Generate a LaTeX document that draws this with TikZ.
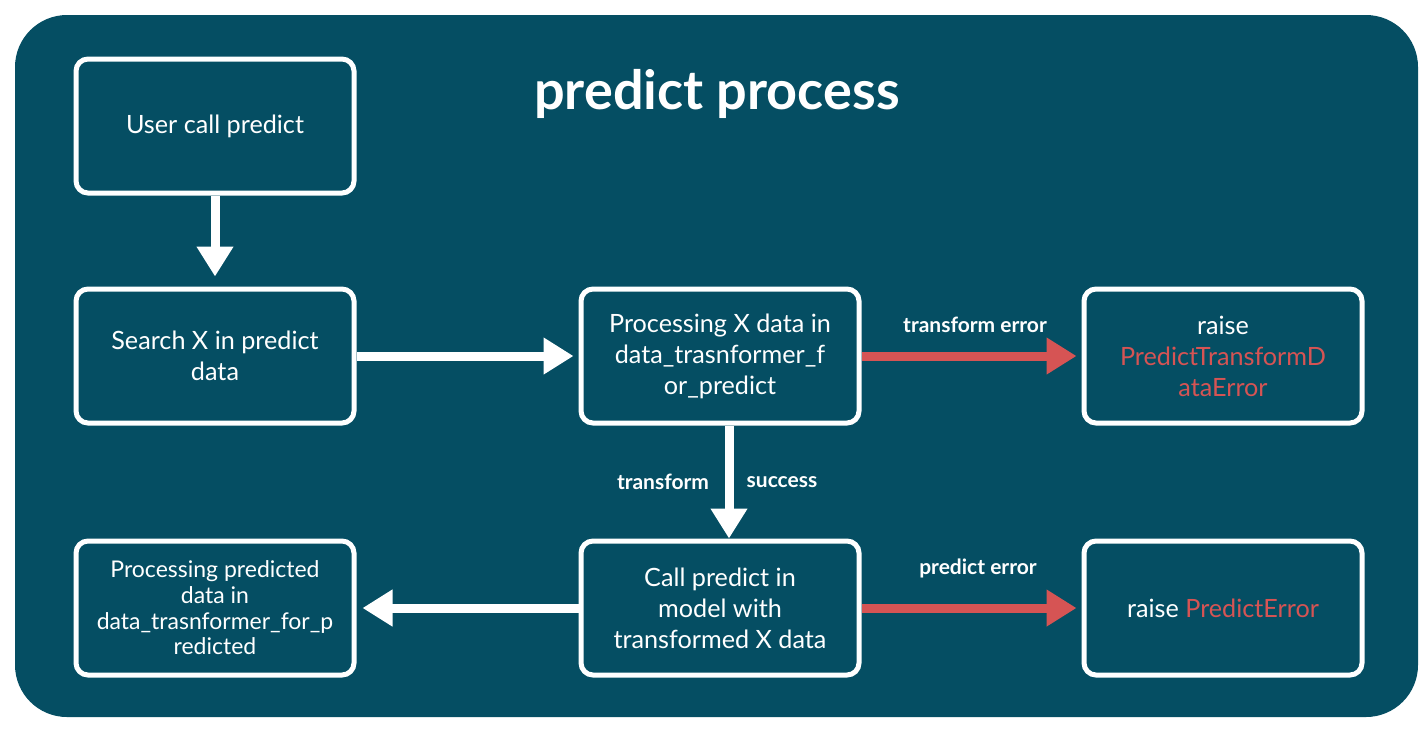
\documentclass[tikz,border=0pt]{standalone}
\usepackage{fontspec}
\setmainfont{Lato}
\usetikzlibrary{arrows.meta}
\definecolor{fondbleu}{RGB}{5,78,99}
\definecolor{rougeerr}{RGB}{214,84,84}

\begin{document}
\begin{tikzpicture}[x=0.5pt, y=-0.5pt,
    boite/.style={draw=white, line width=2.5pt, rounded corners=6pt,
      minimum width=139pt, minimum height=67pt, inner sep=2pt,
      align=center, text=white, font=\fontsize{12.6}{15.5}\selectfont},
    fleche/.style={white, line width=4.5pt, -{Triangle[length=15pt,width=17.5pt]}},
    flecherouge/.style={fleche, rougeerr},
    etiquette/.style={text=white, font=\bfseries\fontsize{10.5}{12}\selectfont}]
    \useasboundingbox (0,0) rectangle (1428,730);
    \fill[fondbleu, rounded corners=26pt] (15,15) rectangle (1418,717);
    % Titre
    \node[text=white, font=\bfseries\fontsize{27}{30}\selectfont] (titre) at (717,94) {predict process};
    % Boites
    \node[boite] (user) at (215,126) {User call predict};
    \node[boite] (search) at (215,356) {Search X in predict\\data};
    \node[boite] (procx) at (720,356) {Processing X data in\\data\_trasnformer\_f\\or\_predict};
    \node[boite] (rtde) at (1223,356) {raise\\\textcolor{rougeerr}{PredictTransformD}\\\textcolor{rougeerr}{ataError}};
    \node[boite, font=\fontsize{11.5}{12.8}\selectfont] (pred) at (215,608) {Processing predicted\\data in\\data\_trasnformer\_for\_p\\redicted};
    \node[boite] (call) at (720,608) {Call predict in\\model with\\transformed X data};
    \node[boite] (rpe) at (1223,608) {raise \textcolor{rougeerr}{PredictError}};
    % Fleches
    \draw[fleche, shorten >=5pt] (user) -- (search);
    \draw[fleche, shorten >=2.5pt] (search) -- (procx);
    \draw[fleche] ([xshift=4.5pt]procx.south) -- ([xshift=4.5pt]call.north);
    \draw[fleche, shorten >=3pt] (call) -- (pred);
    \draw[flecherouge, shorten >=2.5pt] (procx) -- (rtde);
    \draw[flecherouge, shorten >=2.5pt] (call) -- (rpe);
    % Etiquettes
    \node[etiquette] (te) at (975,325) {transform error};
    \node[etiquette] (pe) at (978,568) {predict error};
    \node[etiquette] (tr) at (663,482) {transform};
    \node[etiquette] (su) at (782,482) {success};
\end{tikzpicture}
\end{document}
